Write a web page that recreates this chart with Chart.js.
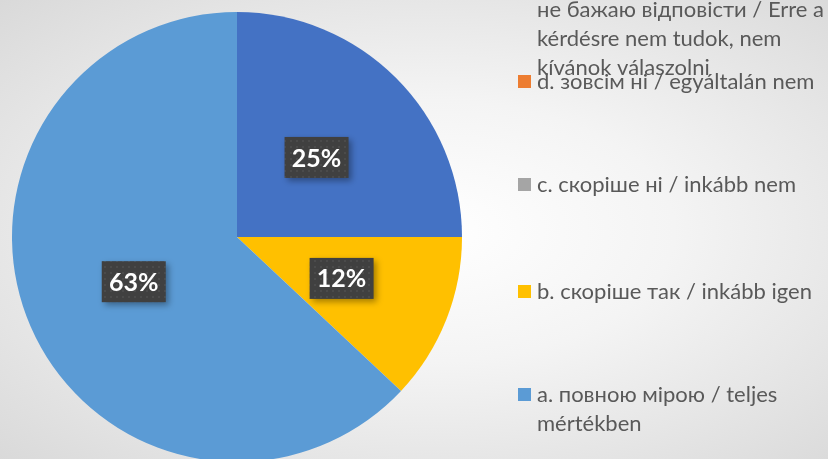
<!DOCTYPE html>
<html>
<head>
<meta charset="utf-8">
<script src="https://cdn.jsdelivr.net/npm/chart.js@4/dist/chart.umd.min.js"></script>
<style>
    html, body {
        margin: 0;
        padding: 0;
        overflow: hidden;
    }
    #wrap {
        width: 828px;
        height: 462px;
        background: radial-gradient(ellipse at 52% 50%, #ffffff 0%, #f4f4f4 40%, #d9d9d9 100%);
    }
</style>
</head>
<body>
<div id="wrap"><canvas id="chart"></canvas></div>
<script>
// answer categories, in the order of the workbook (legend top to bottom)
const categories = [
    ["e. на це питання не можу,", "не бажаю відповісти / Erre a", "kérdésre nem tudok, nem", "kívánok válaszolni"],
    ["d. зовсім ні / egyáltalán nem"],
    ["c. скоріше ні / inkább nem"],
    ["b. скоріше так / inkább igen"],
    ["a. повною мірою / teljes", "mértékben"],
];
const shares = [25, 0, 0, 12, 63];
const sliceColors = ["#4472C4", "#ED7D31", "#A5A5A5", "#FFC000", "#5B9BD5"];

const FONT = "Lato, 'Open Sans', sans-serif";

function makeDotPattern(ctx) {
    const tile = document.createElement("canvas");
    tile.width = 6;
    tile.height = 6;
    const t = tile.getContext("2d");
    t.fillStyle = "#404040";
    t.fillRect(0, 0, 6, 6);
    t.fillStyle = "#4b4b4b";
    t.fillRect(2, 2, 2, 2);
    return ctx.createPattern(tile, "repeat");
}

const percentLabels = {
    id: "percentLabels",
    afterDatasetsDraw(chart) {
        const ctx = chart.ctx;
        const meta = chart.getDatasetMeta(0);
        const values = chart.data.datasets[0].data;
        const pattern = makeDotPattern(ctx);

        meta.data.forEach((arc, i) => {
            if (!values[i]) {
                return;
            }
            const pos = arc.tooltipPosition();
            const w = 64, h = 41;

            ctx.save();
            ctx.shadowColor = "rgba(0,0,0,0.35)";
            ctx.shadowBlur = 6;
            ctx.shadowOffsetX = 3;
            ctx.shadowOffsetY = 3;
            ctx.fillStyle = pattern;
            ctx.fillRect(pos.x - w / 2, pos.y - h / 2, w, h);
            ctx.restore();

            ctx.save();
            ctx.fillStyle = "#ffffff";
            ctx.font = "bold 25px " + FONT;
            ctx.textAlign = "center";
            ctx.textBaseline = "middle";
            ctx.fillText(values[i] + "%", pos.x, pos.y + 1);
            ctx.restore();
        });
    }
};

const sideLegend = {
    id: "sideLegend",
    afterDraw(chart, args, opts) {
        const ctx = chart.ctx;
        const colors = chart.data.datasets[0].backgroundColor;

        ctx.save();
        ctx.font = opts.fontSize + "px " + FONT;
        ctx.textBaseline = "middle";
        chart.data.labels.forEach((lines, i) => {
            const y = opts.rows[i];
            ctx.fillStyle = colors[i];
            ctx.fillRect(opts.x, y - 7, 13, 13);
            ctx.fillStyle = "#595959";
            lines.forEach((line, k) => {
                ctx.fillText(line, opts.x + 19, y + k * opts.lineHeight);
            });
        });
        ctx.restore();
    }
};

new Chart(document.getElementById("chart"), {
    type: "pie",
    data: {
        labels: categories,
        datasets: [{
            data: shares,
            backgroundColor: sliceColors,
            borderWidth: 0,
        }],
    },
    options: {
        responsive: true,
        maintainAspectRatio: false,
        animation: false,
        layout: {
            padding: {left: 12, top: 12, right: 366, bottom: 0}
        },
        plugins: {
            legend: {display: false},
            tooltip: {enabled: false},
            sideLegend: {
                x: 518,
                rows: [-19, 82, 185, 292, 395],
                lineHeight: 29,
                fontSize: 22,
            },
        }
    },
    plugins: [percentLabels, sideLegend]
});
</script>
</body>
</html>
